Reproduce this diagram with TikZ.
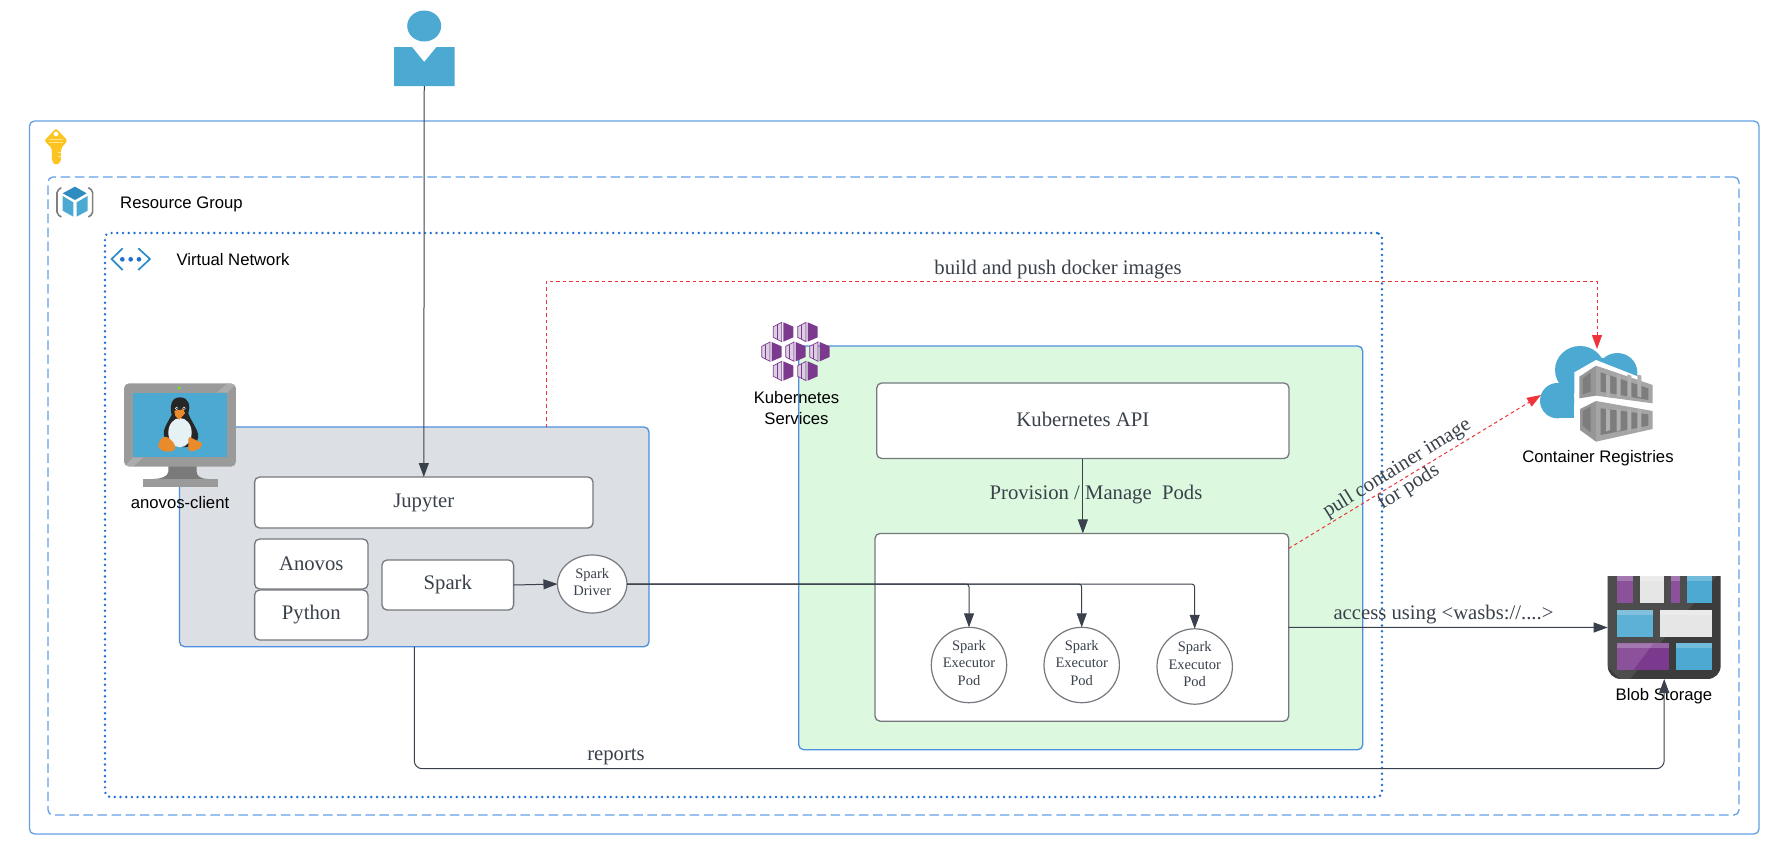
\documentclass[tikz,border=0pt]{standalone}
\usepackage{fontspec}
\setmainfont{Liberation Sans}
\newfontfamily\srf{Liberation Serif}
\usetikzlibrary{arrows.meta,shapes.geometric}
\definecolor{bluel}{HTML}{659FE6}
\definecolor{bluedot}{HTML}{1F6FD1}
\definecolor{edgeb}{HTML}{4F8FE0}
\definecolor{dark}{HTML}{3A404C}
\definecolor{boxl}{HTML}{75787E}
\definecolor{redl}{HTML}{F0343C}
\definecolor{txt}{HTML}{3A414A}
\definecolor{azb}{HTML}{4CA9D2}
\definecolor{pur}{HTML}{7B3A8E}
\definecolor{mgray}{HTML}{9A9A9A}
\definecolor{lightg}{HTML}{E6E6E6}
\definecolor{blb}{HTML}{4CA9D2}
\definecolor{gA}{HTML}{969696}
\definecolor{gB}{HTML}{A5A5A5}
\definecolor{gC}{HTML}{7D7D7D}
\definecolor{gD}{HTML}{AFAFAF}
\definecolor{gE}{HTML}{7A7A7A}
\definecolor{blobd}{HTML}{3C3C3C}
\definecolor{belly}{HTML}{E5F1F4}
\definecolor{keyy}{HTML}{FCC420}
\definecolor{clientf}{HTML}{DCE0E5}
\definecolor{aksf}{HTML}{DCF9E0}
\definecolor{cubed}{HTML}{2D8CC0}
\definecolor{chev}{HTML}{2B8DC7}
\definecolor{peno}{HTML}{E98B2A}
\tikzset{
  lab/.style={font=\fontsize{16.7}{20}\selectfont,inner sep=0pt,text=black,align=center},
  rbox/.style={draw=boxl,line width=1.3pt,rounded corners=5pt,fill=white,inner sep=0pt,outer sep=0pt,text=txt,font=\srf\fontsize{20.7}{25}\selectfont},
  circ/.style={draw=boxl,line width=1.2pt,fill=white,inner sep=0pt,outer sep=0pt},
  ctext/.style={inner sep=0pt,text=txt,align=center,font=\srf\fontsize{14.5}{17.5}\selectfont},
  zone/.style={draw=edgeb,line width=1.3pt,rounded corners=5pt,inner sep=0pt,outer sep=0pt},
  tag/.style={inner sep=0pt,text=txt,align=center,font=\srf\fontsize{20.7}{25}\selectfont},
  icon/.style={inner sep=0pt,outer sep=0pt},
  conn/.style={draw=dark,line width=1pt,-{Triangle[length=14pt,width=10pt]}},
  redc/.style={draw=redl,line width=1pt,dash pattern=on 3.5pt off 3pt,-{Triangle[length=14pt,width=10pt]}},
  k8s/.pic={
    \fill[pur] (0,-29)--(30,-16)--(30,16)--(0,29)--cycle;
    \draw[pur,line width=.7pt,fill=pur!25] (-30,-16)--(-5,-29)--(-5,29)--(-30,16)--cycle;
    \draw[pur,line width=.9pt] (-18,-21)--(-18,22);
  }
}
\begin{document}
\begin{tikzpicture}[x=1pt,y=-1pt]
\useasboundingbox (0,0) rectangle (1783,862);
\fill[white] (0,0) rectangle (1783,862);
% zones
\node[zone,draw=bluel,minimum width=1729.5pt,minimum height=713pt] (outer) at (894.25,477.5) {};
\node[zone,draw=bluel,dash pattern=on 9.5pt off 4.6pt,minimum width=1691pt,minimum height=638pt] (rg) at (893.5,496) {};
\node[zone,draw=bluedot,line width=2.7pt,line cap=round,dash pattern=on 0pt off 5.7pt,minimum width=1277pt,minimum height=564pt] (vnet) at (743.5,515) {};
\node[zone,fill=clientf,minimum width=469.5pt,minimum height=219.7pt] (client) at (414.25,536.85) {};
\node[zone,fill=aksf,minimum width=564pt,minimum height=403.7pt] (aks) at (1080.7,547.85) {};
% boxes
\node[rbox,minimum width=338.4pt,minimum height=51pt] (jup) at (423.8,502.5) {\raisebox{.8pt}{Jupyter}};
\node[rbox,minimum width=113.4pt,minimum height=50pt] (ano) at (311.3,564) {\raisebox{.8pt}{Anovos}};
\node[rbox,minimum width=113.4pt,minimum height=50pt] (pyt) at (311.3,615) {Python};
\node[rbox,minimum width=131.6pt,minimum height=50pt] (spk) at (447.8,585) {\raisebox{.8pt}{Spark}};
\node[circ,ellipse,minimum width=69.5pt,minimum height=58pt] (drv) at (592.2,584) {};
\node[ctext] (drvt) at (592.2,582) {Spark\\Driver};
\node[rbox,minimum width=412.3pt,minimum height=75.5pt] (api) at (1082.85,420.75) {\raisebox{3.5pt}{Kubernetes API}};
\node[rbox,minimum width=413.7pt,minimum height=187.7pt] (pods) at (1081.85,627.3) {};
\node[circ,circle,minimum size=75.4pt] (ex1) at (969,665) {};
\node[circ,circle,minimum size=75.4pt] (ex2) at (1081.7,665) {};
\node[circ,circle,minimum size=75.4pt] (ex3) at (1194.7,666.5) {};
\node[ctext] (ex1t) at (969,663) {Spark\\Executor\\Pod};
\node[ctext] (ex2t) at (1081.7,663) {Spark\\Executor\\Pod};
\node[ctext] (ex3t) at (1194.7,664.5) {Spark\\Executor\\Pod};
% person
\node[icon,minimum width=60.5pt,minimum height=39pt] (user) at (424.25,66.5) {};
\fill[azb] (424.2,26) ellipse [x radius=17,y radius=15.5];
\fill[azb] (user.north west)--(412,47)--(424.2,62)--(436.5,47)--(user.north east)--(user.south east)--(user.south west)--cycle;
% key
\begin{scope}[shift={(35,120)},x=.3333pt,y=-.3333pt]
\fill[keyy,rounded corners=2pt] (63,25)--(98,62)--(78,85)--(78,125)--(63,136)--(51,125)--(51,85)--(28,62)--cycle;
\fill[white] (63,42) circle[radius=7];
\draw[white,opacity=.5,line width=.9pt] (42,57)--(84,57) (42,68)--(84,68);
\draw[white,opacity=.6,line width=.8pt] (70,98)--(78,98) (70,108)--(78,108);
% cube
\draw[gray,line width=1.6pt,rounded corners=2pt] (79,203)--(66,212)--(66,282)--(79,291);
\draw[gray,line width=1.6pt,rounded corners=2pt] (160,203)--(173,212)--(173,282)--(160,291);
\fill[cubed] (120,200)--(155,220)--(120,240)--(83,220)--cycle;
\fill[azb] (83,228)--(115,247)--(115,290)--(83,272)--cycle;
\fill[azb] (125,247)--(158,228)--(158,272)--(125,290)--cycle;
% vnet icon
\draw[chev,line width=1.7pt] (263,385)--(230,417)--(263,450);
\draw[chev,line width=1.7pt] (310,385)--(345,417)--(310,450);
\fill[bluedot] (262,418) circle[radius=7] (287,418) circle[radius=7] (312,418) circle[radius=7];
\end{scope}
% monitor
\begin{scope}[shift={(120,380)},x=.3333pt,y=-.3333pt]
\fill[gE] (145,255) -- (145,275) .. controls (145,290) and (120,297) .. (100,297) -- (265,297) .. controls (245,297) and (230,290) .. (230,275) -- (230,255) -- cycle;
\fill[mgray] (70,297) rectangle (295,321);
\fill[mgray,rounded corners=5pt] (12,10) rectangle (348,260);
\fill[white,opacity=.18] (12,260) -- (40,232) -- (70,232) -- (40,260) -- cycle;
\fill[white,opacity=.18] (348,12) -- (322,38) -- (290,38) -- (320,12) -- cycle;
\fill[azb] (38,38) rectangle (322,232);
\fill[green!60!yellow] (178,24) circle[radius=4];
% penguin
\fill[black!85] (180,52) .. controls (150,52) and (150,85) .. (155,105) .. controls (145,125) and (125,150) .. (133,170) .. controls (150,205) and (215,215) .. (232,180) .. controls (245,160) and (210,120) .. (205,100) .. controls (212,80) and (208,52) .. (180,52) -- cycle;
\fill[belly] (180,158) ellipse [x radius=35,y radius=44];
\fill[white] (170,85) circle[radius=5] (192,85) circle[radius=5];
\fill[black] (171,85) circle[radius=2.5] (192,85) circle[radius=2.5];
\fill[peno] (163,92)--(190,88)--(195,100)--(178,119)--(166,108)--cycle;
\fill[peno,rounded corners=3pt] (112,202)--(122,175)--(140,168)--(165,192)--(166,212)--(135,216)--cycle;
\fill[peno,rounded corners=3pt] (205,215)--(205,168)--(222,178)--(250,190)--(235,210)--cycle;
\end{scope}
\node[lab] (cname) at (180,503) {anovos-client};
% k8s
\begin{scope}[shift={(755,315)},x=.3333pt,y=-.3333pt]
\foreach \px/\py in {85/51,158/51,50/110,122/110,194/110,85/168,158/168}
  \pic at (\px,\py) {k8s};
\end{scope}
\node[lab,align=center,font=\fontsize{16.7}{20.5}\selectfont] (kname) at (796.5,408) {Kubernetes\\Services};
% registry
\node[icon,minimum width=112pt,minimum height=92pt] (reg) at (1597,395) {};
\begin{scope}[shift={(1530,335)},x=.3333pt,y=-.3333pt]
\fill[azb] (82,197) ellipse [x radius=52,y radius=53];
\fill[azb] (150,105) ellipse [x radius=75,y radius=72];
\fill[azb] (262,112) ellipse [x radius=60,y radius=58];
\fill[azb] (80,150) rectangle (133,250);
\fill[azb] (140,70) rectangle (300,160);
\fill[white] (133,112)--(198,75)--(325,125)--(325,260)--(133,260)--cycle;
\fill[gA] (148,125)--(198,92)--(198,182)--(148,190)--cycle;
\fill[gB] (198,92)--(368,150)--(368,205)--(198,182)--cycle;
\fill[gC] (158,130)--(182,113)--(182,170)--(158,178)--cycle;
\fill[gC] (212,112)--(355,160)--(355,195)--(212,170)--cycle;
\foreach \sx in {228,260,292,322} \fill[gD] (\sx,118)--(\sx+12,122)--(\sx+12,188)--(\sx,184)--cycle;
\fill[gA] (150,222)--(198,198)--(198,320)--(150,285)--cycle;
\fill[gB] (198,198)--(368,228)--(368,282)--(198,320)--cycle;
\fill[gC] (158,228)--(182,215)--(182,292)--(158,272)--cycle;
\fill[gC] (212,220)--(355,238)--(355,272)--(212,300)--cycle;
\foreach \sx in {228,260,292,322} \fill[gD] (\sx,222)--(\sx+12,224)--(\sx+12,285)--(\sx,290)--cycle;
\end{scope}
\node[lab] (rname) at (1598,458) {Container Registries};
% blob
\node[icon,minimum width=113pt,minimum height=103pt] (blob) at (1664.2,627.5) {};
\begin{scope}[shift={(1590,560)},x=.3333pt,y=-.3333pt]
\fill[blobd] (53,48)--(392,48)--(392,317) .. controls (392,340) and (375,357) .. (352,357) -- (93,357) .. controls (70,357) and (53,340) .. (53,317) -- cycle;
\begin{scope}
\clip (53,48) rectangle (392,357);
\fill[white,opacity=.09] (53,48)--(380,48)--(120,357)--(90,357)--(53,320)--cycle;
\end{scope}
\foreach \xa/\ya/\xb/\yb/\cc in {81/48/129/129/pur,149/48/223/129/lightg,243/48/270/129/pur,291/48/365/129/blb,81/150/189/230/blb,209/150/365/230/lightg,81/250/237/330/pur,257/250/365/330/blb}{
  \fill[\cc] (\xa,\ya) rectangle (\xb,\yb);
  \fill[white,opacity=.22] (\xa,\ya) rectangle (\xb,\ya+14);
}
\fill[white,opacity=.12] (81,250)--(190,250)--(130,330)--(81,330)--cycle;
\fill[white,opacity=.12] (81,48)--(129,48)--(129,129)--(81,129)--cycle;
\fill[white,opacity=.12] (243,48)--(270,48)--(270,129)--(243,129)--cycle;
\fill[white,opacity=.1] (81,150)--(189,150)--(189,230)--(81,230)--cycle;
\end{scope}
\node[lab] (bname) at (1664,696) {Blob Storage};
% connectors
\coordinate (rptm) at (1000,768.7);
\coordinate (rdm) at (1200,281);
\draw[conn] (user.south) -- (jup.north);
\draw[conn] (spk.east) -- (drv.west);
\draw[conn,rounded corners=3pt] (drv.east) -| (ex1.north);
\draw[conn,rounded corners=3pt] (drv.east) -| (ex2.north);
\draw[conn,rounded corners=3pt] (drv.east) -| (ex3.north);
\draw[conn] (api.south) -- (api.south |- pods.north);
\draw[conn] (pods.east) -- (blob.west);
\draw[conn,rounded corners=8pt] (client.south) |- (rptm) -| (blob.south);
\draw[redc] ([xshift=131.75pt]client.north) |- (rdm) -| (reg.north);
\draw[redc] ([yshift=-15pt]pods.north east) -- (reg.west);
% labels
\node[tag] (tbuild) at (1058,270) {build and push docker images};
\node[tag] (tprov) at (1096,495) {Provision / Manage\ \ Pods};
\node[tag] (taccess) at (1443.5,615) {access using <wasbs://....>};
\node[tag] (treports) at (616,757) {reports};
\node[tag,rotate=32,font=\srf\fontsize{20.7}{22}\selectfont] (tpull) at (1403,478) {pull container image\\for pods};
\node[lab] (trg) at (181.5,204) {Resource Group};
\node[lab] (tvn) at (233,259.5) {Virtual Network};
\end{tikzpicture}
\end{document}
